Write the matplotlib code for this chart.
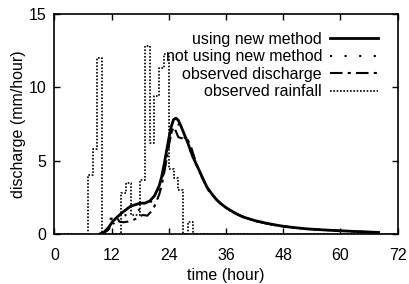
import numpy as np
import matplotlib
matplotlib.use('Agg')
import matplotlib.pyplot as plt

plt.rcParams['font.family'] = ['Liberation Sans', 'DejaVu Sans']

# hourly rainfall (mm/hour), value holds from t to t+1
rain_t = [0, 7, 8, 9, 10, 14, 15, 16, 18, 19, 20, 21, 22, 23, 24, 25, 26, 27, 28, 29, 72]
rain_v = [0, 4.0, 5.8, 12.0, 0, 2.8, 3.5, 1.3, 3.7, 12.8, 6.2, 9.4, 11.3, 12.3, 4.4, 3.8, 3.0, 0, 0.8, 0, 0]

# computed discharge, new method
new_t = [9.5, 10.5, 11.5, 12.2, 13, 14, 15, 16, 17, 18, 19, 20, 21, 22, 22.5, 23, 23.5, 24, 24.5, 25, 25.5,
         26, 26.5, 27, 27.5, 28, 28.5, 29, 29.5, 30, 30.5, 31, 31.5, 32, 33, 34, 35, 36, 37, 38, 39, 40,
         42, 44, 46, 48, 50, 53, 57, 60, 64, 68]
new_v = [0, 0.15, 0.5, 0.85, 1.1, 1.4, 1.65, 1.9, 2.0, 2.1, 2.1, 2.25, 2.6, 3.3, 3.9, 4.7, 5.6, 6.5, 7.3, 7.8, 7.9,
         7.75, 7.4, 7.0, 6.6, 6.2, 5.75, 5.3, 4.95, 4.6, 4.25, 3.9, 3.55, 3.2, 2.75, 2.35, 2.05, 1.8, 1.6, 1.4, 1.25, 1.12,
         0.92, 0.77, 0.64, 0.53, 0.45, 0.35, 0.27, 0.22, 0.16, 0.11]

# computed discharge, old method
old_t = [10, 11, 12, 13, 14, 15, 16, 17, 18, 19, 20, 21, 22, 23, 23.5, 24, 24.5, 25, 25.5,
         26, 27, 28, 29, 30, 31, 32, 33, 35, 37, 39, 42, 45, 48, 53, 60, 68]
old_v = [0, 0.3, 0.6, 0.9, 1.1, 1.3, 1.4, 1.5, 1.7, 1.9, 2.1, 2.5, 3.1, 4.2, 5.0, 5.9, 6.8, 7.4, 7.6,
         7.5, 6.8, 6.1, 5.3, 4.5, 3.8, 3.1, 2.7, 2.0, 1.55, 1.2, 0.9, 0.66, 0.52, 0.35, 0.22, 0.11]

# observed discharge
obs_t = [10, 11, 11.5, 11.8, 13.3, 13.6, 14.5, 15.5, 16.5, 17.5, 18.5, 19.5, 20.5, 21, 22, 22.5, 23, 23.5, 24,
         24.5, 25, 25.5, 26, 27, 28, 28.6, 29.3, 30, 31, 32, 33, 35, 37, 39, 42, 45, 48, 53, 60, 68]
obs_v = [0.05, 0.2, 0.35, 1.05, 1.05, 0.85, 0.8, 0.85, 0.95, 1.1, 1.3, 1.25, 1.6, 1.9, 2.7, 3.3, 4.1, 5.0, 6.0,
         6.8, 7.3, 7.0, 6.6, 6.5, 6.4, 6.0, 5.3, 4.6, 3.85, 3.15, 2.7, 2.0, 1.6, 1.25, 0.9, 0.67, 0.52, 0.35, 0.22, 0.11]

fig = plt.figure(figsize=(4.09, 2.84), dpi=100)
ax = fig.add_axes([0.133, 0.176, 0.839, 0.775])

ax.plot(new_t, new_v, color='black', lw=2.0, ls='-', label='using new method')
ax.plot(old_t, old_v, color='black', lw=1.5, ls=(0, (1, 6)), label='not using new method')
ax.plot(obs_t, obs_v, color='black', lw=1.5, ls=(0, (6, 2.5, 1.5, 2.5)), label='observed discharge')
ax.plot(rain_t, rain_v, color='black', lw=1.2, ls=(0, (1, 1)), drawstyle='steps-post', label='observed rainfall')

ax.set_xlim(0, 72)
ax.set_ylim(0, 15)
ax.set_xticks(np.arange(0, 73, 12))
ax.set_yticks([0, 5, 10, 15])
ax.tick_params(direction='in', top=True, right=True, length=4, width=1, labelsize=11.5)
ax.tick_params(axis='x', pad=10)
ax.tick_params(axis='y', pad=6)
for s in ax.spines.values():
    s.set_linewidth(1.2)

ax.set_xlabel('time (hour)', fontsize=11.5, labelpad=4)
ax.set_ylabel('discharge (mm/hour)', fontsize=11.5, labelpad=2)

ax.legend(loc='upper right', bbox_to_anchor=(0.985, 0.983), frameon=False, markerfirst=False, fontsize=11.5,
          handlelength=3.0, labelspacing=0.15, handletextpad=0.5,
          borderaxespad=0.4, borderpad=0.5)

fig.savefig('out.png', dpi=100)
